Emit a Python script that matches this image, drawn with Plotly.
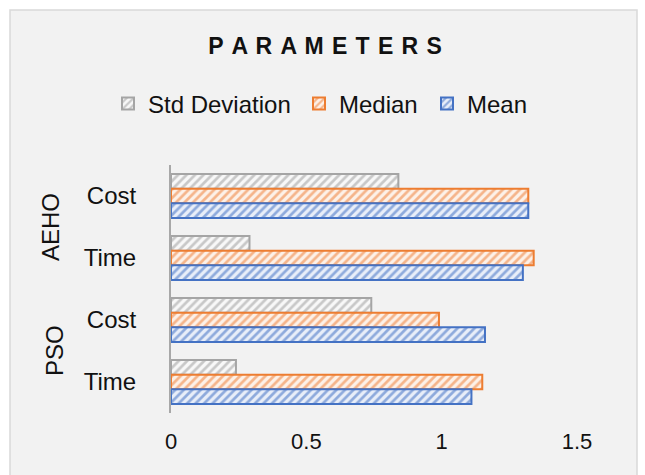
import plotly.graph_objects as go

# Data
groups = ["AEHO", "PSO"]
categories = ["Cost", "Time", "Cost", "Time"]          # top to bottom
category_group = ["AEHO", "AEHO", "PSO", "PSO"]
std_dev = [0.84, 0.29, 0.74, 0.24]
median = [1.32, 1.34, 0.99, 1.15]
mean = [1.32, 1.30, 1.16, 1.11]
x_ticks = [0, 0.5, 1, 1.5]
x_tick_labels = ["0", "0.5", "1", "1.5"]

positions = list(range(len(categories)))

W, H = 645, 475
L, R, T, B = 171, 68, 165, 62
plot_w = W - L - R
plot_h = H - T - B


def px_x(px):
    return (px - L) / plot_w


def px_y(py):
    return (H - B - py) / plot_h


FONT = "Liberation Sans, Arial, sans-serif"
TEXT_C = "#111111"

# name, values, outline, stripe colour, background, legend id, legend left (px)
series = [
    ("Std Deviation", std_dev, "#a5a5a5", "#c8c8c8", "#f8f8f8", "legend", 108),
    ("Median", median, "#ed7d31", "#f5b48a", "#fdf1e8", "legend2", 299),
    ("Mean", mean, "#4472c4", "#8eaadc", "#e8eef9", "legend3", 427),
]

fig = go.Figure()
legends = {}
for name, vals, line_c, fg, bg, leg, leg_x in series:
    fig.add_trace(go.Bar(
        name=name,
        x=vals,
        y=positions,
        orientation="h",
        legend=leg,
        showlegend=True,
        marker=dict(
            color=bg,
            line=dict(color=line_c, width=2),
            pattern=dict(shape="/", fgcolor=fg, bgcolor=bg, size=6,
                         solidity=0.45, fillmode="replace"),
        ),
    ))
    legends[leg] = dict(
        orientation="h",
        x=px_x(leg_x), xanchor="left",
        y=px_y(104), yanchor="middle",
        font=dict(family=FONT, size=24, color=TEXT_C),
        bgcolor="rgba(0,0,0,0)",
    )

# Group labels (rotated), centred on their categories
group_x = {"AEHO": 50, "PSO": 54}
annotations = []
for g in groups:
    idx = [i for i, cg in enumerate(category_group) if cg == g]
    centre = sum(positions[i] for i in idx) / len(idx)
    annotations.append(dict(
        text=g, x=px_x(group_x[g]), xref="paper", y=centre, yref="y",
        showarrow=False, textangle=-90, xanchor="center", yanchor="middle",
        font=dict(family=FONT, size=24, color=TEXT_C),
    ))

fig.update_layout(
    width=W, height=H,
    margin=dict(l=L, r=R, t=T, b=B),
    paper_bgcolor="white",
    plot_bgcolor="rgba(0,0,0,0)",
    showlegend=True,
    barmode="group",
    bargap=0.29,
    bargroupgap=0,
    title=dict(
        text="<b>" + " \u200a".join("PARAMETERS") + "</b>",
        x=325 / W, xref="container", xanchor="center",
        y=1 - 46 / H, yref="container", yanchor="middle",
        font=dict(family=FONT, size=23, color=TEXT_C),
    ),
    xaxis=dict(
        range=[0, 1.5],
        tickvals=x_ticks, ticktext=x_tick_labels,
        showgrid=False, zeroline=False, showline=False,
        ticks="outside", ticklen=9, tickcolor="rgba(0,0,0,0)",
        tickfont=dict(family=FONT, size=22, color=TEXT_C),
    ),
    yaxis=dict(
        tickvals=positions, ticktext=categories,
        range=[len(categories) - 0.5, -0.5],
        showgrid=False, zeroline=False,
        showline=True, linecolor="#a8a8a8", linewidth=2,
        ticks="", ticklabelstandoff=28,
        tickfont=dict(family=FONT, size=24, color=TEXT_C),
    ),
    annotations=annotations,
    shapes=[dict(
        type="rect", xref="paper", yref="paper", layer="below",
        x0=px_x(10), x1=px_x(637), y0=px_y(490), y1=px_y(10),
        fillcolor="#f2f2f2", line=dict(color="#d9d9d9", width=1.5),
    )],
    **legends,
)

fig.write_html("out.html")
